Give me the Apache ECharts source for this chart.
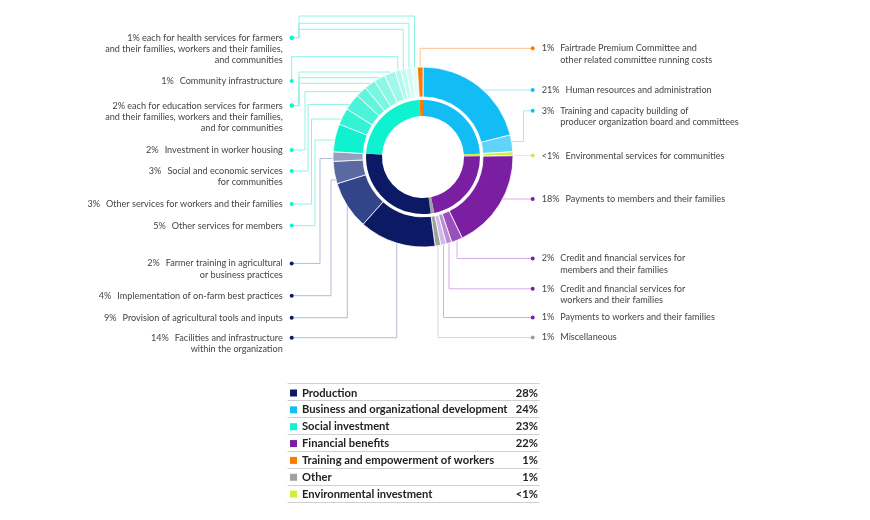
<!DOCTYPE html>
<html><head><meta charset="utf-8">
<script src="https://cdn.jsdelivr.net/npm/echarts@6/dist/echarts.min.js"></script>
<style>html,body{margin:0;padding:0;background:#fff}#c{width:870px;height:520px}</style>
</head><body><div id="c"></div>
<script>
// ---------- DATA ----------
const categories = ['Business and organizational development', 'Environmental investment', 'Financial benefits', 'Other', 'Production', 'Social investment', 'Training and empowerment of workers'];
const categoryValues = [24, 0.7, 22, 1, 28, 23, 1];

const itemNames = [
  'Human resources and administration',
  'Training and capacity building of producer organization board and committees',
  'Environmental services for communities',
  'Payments to members and their families',
  'Credit and financial services for members and their families',
  'Credit and financial services for workers and their families',
  'Payments to workers and their families',
  'Miscellaneous',
  'Facilities and infrastructure within the organization',
  'Provision of agricultural tools and inputs',
  'Implementation of on-farm best practices',
  'Farmer training in agricultural or business practices',
  'Other services for members',
  'Other services for workers and their families',
  'Social and economic services for communities',
  'Investment in worker housing',
  'Education services for farmers and their families',
  'Education services for workers and their families',
  'Education services for communities',
  'Community infrastructure',
  'Health services for farmers and their families',
  'Health services for workers and their families',
  'Health services for communities',
  'Fairtrade Premium Committee and other related committee running costs'
];
const itemValues = [21, 3, 0.7, 18, 2, 1, 1, 1, 13.7, 8.6, 4, 1.7, 5, 3, 3, 2, 2, 2, 2, 1, 1, 1, 1, 1];
const itemCategory = [0, 0, 1, 2, 2, 2, 2, 3, 4, 4, 4, 4, 5, 5, 5, 5, 5, 5, 5, 5, 5, 5, 5, 6];

const labelPercents = ['21%', '3%', '<1%', '18%', '2%', '1%', '1%', '1%', '14%', '9%', '4%', '2%', '5%', '3%', '3%', '2%', '2%', '', '', '1%', '1%', '', '', '1%'];
const labelLines = [
  ['Human resources and administration'],
  ['Training and capacity building of', 'producer organization board and committees'],
  ['Environmental services for communities'],
  ['Payments to members and their families'],
  ['Credit and financial services for', 'members and their families'],
  ['Credit and financial services for', 'workers and their families'],
  ['Payments to workers and their families'],
  ['Miscellaneous'],
  ['Facilities and infrastructure', 'within the organization'],
  ['Provision of agricultural tools and inputs'],
  ['Implementation of on-farm best practices'],
  ['Farmer training in agricultural', 'or business practices'],
  ['Other services for members'],
  ['Other services for workers and their families'],
  ['Social and economic services', 'for communities'],
  ['Investment in worker housing'],
  ['each for education services for farmers', 'and their families, workers and their families,', 'and for communities'],
  [], [],
  ['Community infrastructure'],
  ['each for health services for farmers', 'and their families, workers and their families,', 'and communities'],
  [], [],
  ['Fairtrade Premium Committee and', 'other related committee running costs']
];

const legendOrder = ['Production', 'Business and organizational development', 'Social investment', 'Financial benefits', 'Training and empowerment of workers', 'Other', 'Environmental investment'];
const legendPercents = ['28%', '24%', '23%', '22%', '1%', '1%', '<1%'];

// ---------- STYLE / LAYOUT ----------
const categoryColors = ['#12bdf5', '#cdf03c', '#7a1fa2', '#9ea29f', '#0c1a66', '#0ff2cf', '#ff7a00'];
const lineColors = ['#a9e6fb', '#e2f59a', '#d4aee8', '#d6d6d6', '#b5bbd6', '#8cf5e4', '#ffc58c'];
const itemColors = ['#12bdf5', '#5fd4fa', '#cdf03c', '#7a1fa2', '#9a50ba', '#bb8fd6', '#d5b8ea', '#9ea29f',
  '#0c1a66', '#33458a', '#5b69a2', '#969fc2',
  '#0ff2cf', '#33f3d4', '#4bf4d8', '#62f5dc', '#78f6e1', '#8df7e5', '#a0f8ea', '#b2f9ed', '#c3faf1', '#d2fbf5', '#e1fdf8',
  '#ff7a00'];

const CX = 423, CY = 157, R_OUT = 90;
const FONT = 'Lato', FS = 9.1, LH = 11.3, TXT = '#444';
const DOT_R_X = 532.7, DOT_L_X = 291.7;

// route: side, dotY, fromY (start on arc at y) or start at slice mid-point; via points (null x = start x)
const labelRoutes = [
  {side: 'R', dotY: 90, fromY: 90},
  {side: 'R', dotY: 110.8, fromY: 141.5, via: [[523.5, 141.5], [523.5, 110.8]]},
  {side: 'R', dotY: 155.6, fromY: 155.6},
  {side: 'R', dotY: 199, fromY: 199},
  {side: 'R', dotY: 258.5, via: [[null, 258.5]]},
  {side: 'R', dotY: 288.8, via: [[null, 288.8]]},
  {side: 'R', dotY: 317.5, via: [[null, 317.5]]},
  {side: 'R', dotY: 337.5, via: [[null, 337.5]]},
  {side: 'L', dotY: 337.7, via: [[null, 337.7]]},
  {side: 'L', dotY: 317.7, via: [[null, 317.7]]},
  {side: 'L', dotY: 295.7, fromY: 180, via: [[331, 180], [331, 295.7]]},
  {side: 'L', dotY: 263.4, fromY: 158.5, via: [[320, 158.5], [320, 263.4]]},
  {side: 'L', dotY: 225.6, fromY: 140, via: [[315, 140], [315, 225.6]]},
  {side: 'L', dotY: 204, fromY: 119, via: [[311.5, 119], [311.5, 204]]},
  {side: 'L', dotY: 171, fromY: 104.4, via: [[308, 104.4], [308, 171]]},
  {side: 'L', dotY: 150, fromY: 91.7, via: [[305, 91.7], [305, 150]]},
  {side: 'L', dotY: 105.6, via: [[null, 83.3], [299, 83.3], [299, 105.6]]},
  {side: 'L', dotY: 105.6, via: [[null, 77.7], [299, 77.7], [299, 105.6]]},
  {side: 'L', dotY: 105.6, via: [[null, 72], [299, 72], [299, 105.6]]},
  {side: 'L', dotY: 81, via: [[null, 56.7], [DOT_L_X, 56.7]]},
  {side: 'L', dotY: 37.7, via: [[null, 29.3], [299, 29.3], [299, 37.7]]},
  {side: 'L', dotY: 37.7, via: [[null, 23.3], [299, 23.3], [299, 37.7]]},
  {side: 'L', dotY: 37.7, via: [[null, 16], [299, 16], [299, 37.7]]},
  {side: 'R', dotY: 48.3, via: [[null, 48.3]]}
];

const ctx = document.createElement('canvas').getContext('2d');
ctx.font = FS + 'px ' + FONT;
const mw = s => ctx.measureText(s).width;

const G1 = 7, G2 = 6, DOTW = 4;

function buildLabel(i) {
  const route = labelRoutes[i];
  const c = categoryColors[itemCategory[i]];
  const pct = labelPercents[i];
  const lines = labelLines[i];
  const rich = {
    t: {fontSize: FS, fontFamily: FONT, color: TXT, lineHeight: LH},
    dot: {width: DOTW, height: DOTW, borderRadius: DOTW / 2, backgroundColor: c},
    g1: {width: G1}, g2: {width: G2},
    gs: {width: mw(' ')}
  };
  let str;
  if (!lines.length) {
    str = '{dot|}';
  } else if (route.side === 'R') {
    rich.pad = {width: DOTW + G1 + mw(pct) + G2};
    str = '{dot|}{g1|}{t|' + pct + '}{g2|}{t|' + lines[0] + '}';
    for (let k = 1; k < lines.length; k++) str += '\n{pad|}{t|' + lines[k] + '}';
  } else {
    rich.pad = {width: DOTW + G1};
    const gap = lines[0].indexOf('each') === 0 ? '{gs|}' : '{g2|}';
    str = '{t|' + pct + '}' + gap + '{t|' + lines[0] + '}{g1|}{dot|}';
    for (let k = 1; k < lines.length; k++) str += '\n{t|' + lines[k] + '}{pad|}';
  }
  return {show: true, position: 'outside', formatter: () => str, rich: rich, lineHeight: LH};
}

const total = itemValues.reduce((a, b) => a + b, 0);
function midPoint(i) {
  let s = 0;
  for (let k = 0; k < i; k++) s += itemValues[k];
  const a = (s + itemValues[i] / 2) / total * 2 * Math.PI;
  return [CX + R_OUT * Math.sin(a), CY - R_OUT * Math.cos(a)];
}
function arcAtY(y, sign) {
  return [CX + sign * Math.sqrt(Math.max(0, R_OUT * R_OUT - (y - CY) * (y - CY))), y];
}

const outerData = itemNames.map((n, i) => ({
  name: n, value: itemValues[i],
  itemStyle: {color: itemColors[i]},
  label: buildLabel(i),
  labelLine: {show: true, smooth: false, length: 5, length2: 5, lineStyle: {color: lineColors[itemCategory[i]], width: 1}}
}));
const innerData = categories.map((n, i) => ({name: n, value: categoryValues[i], itemStyle: {color: categoryColors[i]}}));

const legendRowY0 = 383, legendStep = 16.95, legendLeft = 287.5, legendRight = 539.5;
const sepLines = [];
for (let k = 0; k <= legendOrder.length; k++) {
  const y = Math.round(legendRowY0 + k * legendStep) + 0.5;
  sepLines.push({type: 'line', silent: true, shape: {x1: legendLeft, y1: y, x2: legendRight, y2: y}, style: {stroke: '#cfcfcf', lineWidth: 1}});
}

const chart = echarts.init(document.getElementById('c'), null, {renderer: 'canvas'});
chart.setOption({
  animation: false,
  backgroundColor: '#fff',
  legend: {
    data: legendOrder,
    orient: 'vertical',
    left: 290, top: 387.5,
    padding: 0,
    itemWidth: 7, itemHeight: 7,
    itemGap: 5.85,
    icon: 'rect',
    selectedMode: false,
    formatter: name => '{n|' + name + '}{p|' + legendPercents[legendOrder.indexOf(name)] + '}',
    textStyle: {
      rich: {
        n: {width: 200, fontFamily: FONT, fontWeight: 'bold', fontSize: 11.2, color: '#222', lineHeight: 12},
        p: {width: 36, align: 'right', fontFamily: FONT, fontWeight: 'bold', fontSize: 11.2, color: '#222', lineHeight: 12}
      }
    }
  },
  graphic: sepLines,
  series: [
    {
      type: 'pie', name: 'Categories',
      center: [CX, CY], radius: [41, 57],
      startAngle: 90, clockwise: true,
      label: {show: false}, labelLine: {show: false},
      silent: true,
      itemStyle: {borderWidth: 0},
      data: innerData
    },
    {
      type: 'pie', name: 'Items',
      center: [CX, CY], radius: [60, R_OUT],
      startAngle: 90, clockwise: true,
      avoidLabelOverlap: false,
      silent: true,
      minShowLabelAngle: 0,
      itemStyle: {borderColor: '#fff', borderWidth: 0.8},
      data: outerData,
      labelLayout: function (params) {
        const i = params.dataIndex;
        const r = labelRoutes[i];
        const sign = r.side === 'R' ? 1 : -1;
        let start;
        if (r.fromY != null) start = arcAtY(r.fromY, sign);
        else start = (params.labelLinePoints && params.labelLinePoints[0]) ? params.labelLinePoints[0].slice() : midPoint(i);
        const pts = [start];
        (r.via || []).forEach(v => pts.push([v[0] == null ? start[0] : v[0], v[1]]));
        const dotX = r.side === 'R' ? DOT_R_X : DOT_L_X;
        pts.push([dotX, r.dotY]);
        return {
          x: r.side === 'R' ? dotX - DOTW / 2 : dotX + DOTW / 2,
          y: r.dotY - LH / 2,
          align: r.side === 'R' ? 'left' : 'right',
          verticalAlign: 'top',
          labelLinePoints: pts
        };
      }
    }
  ]
});
</script>
</body></html>
